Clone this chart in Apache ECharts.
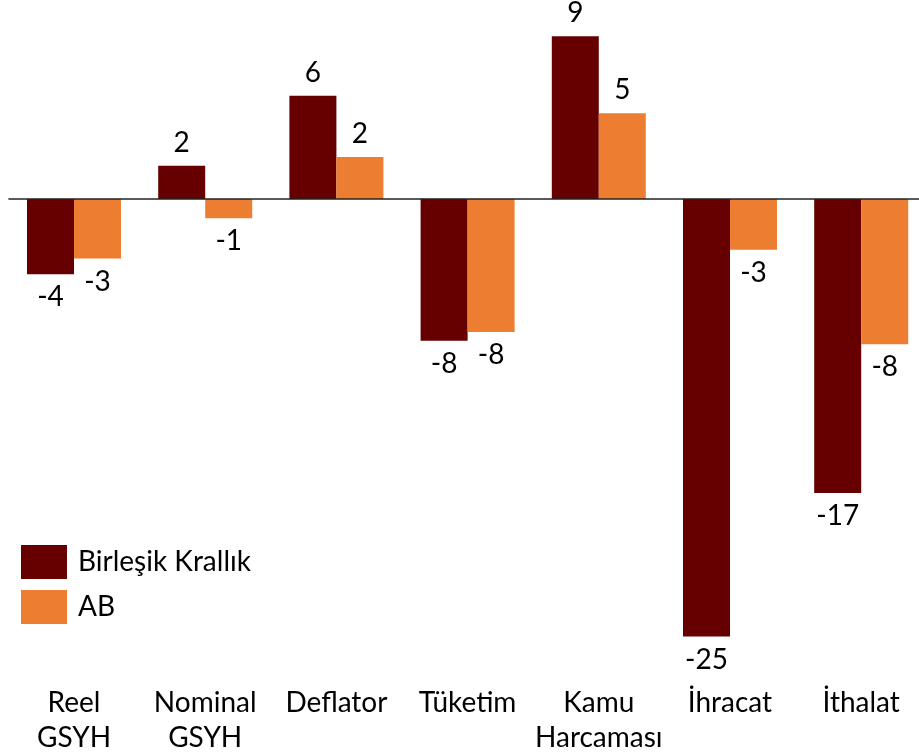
<!DOCTYPE html>
<html>
<head>
<meta charset="utf-8">
<script src="https://cdn.jsdelivr.net/npm/echarts@6/dist/echarts.min.js"></script>
<style>
  html, body { margin: 0; padding: 0; background: #fff; }
  #main { width: 919px; height: 755px; }
</style>
</head>
<body>
<div id="main"></div>
<script>
let categories = ["Reel\nGSYH", "Nominal\nGSYH", "Deflator", "Tüketim", "Kamu\nHarcaması", "İhracat", "İthalat"];
let ukValues = [-4.3, 1.9, 5.9, -8.1, 9.3, -25.0, -16.8];
let abValues = [-3.4, -1.1, 2.4, -7.6, 4.9, -2.9, -8.3];
let seriesNames = ["Birleşik Krallık", "AB"];

let font = "Lato";
let fontSize = 28;

// labels above positive bars, below negative ones
let toItems = (arr) => arr.map((v) => ({
  value: v,
  label: { position: v < 0 ? "bottom" : "top" },
}));

let labelStyle = {
  show: true,
  distance: 9,
  color: "#000",
  fontFamily: font,
  fontSize: fontSize,
  formatter: (p) => Math.round(p.value),
};

let option = {
  animation: false,
  backgroundColor: "#fff",
  grid: {
    left: 8.4,
    width: 918.4,
    top: 24,
    height: 612.5,
    containLabel: false,
    outerBoundsMode: "none",
  },
  legend: {
    orient: "vertical",
    left: 21,
    top: 545,
    padding: 0,
    itemWidth: 46,
    itemHeight: 34,
    itemGap: 11,
    icon: "rect",
    textStyle: {
      color: "#000",
      fontFamily: font,
      fontSize: fontSize,
      padding: [0, 0, 0, 6],
    },
    data: seriesNames,
  },
  xAxis: {
    type: "category",
    data: categories,
    axisLine: { show: false, onZero: false },
    axisTick: { show: false },
    splitLine: { show: false },
    axisLabel: {
      interval: 0,
      margin: 49,
      color: "#000",
      fontFamily: font,
      fontSize: fontSize,
      lineHeight: 35,
    },
  },
  yAxis: {
    type: "value",
    min: -25,
    max: 10,
    show: false,
    splitLine: { show: false },
  },
  series: [
    {
      name: seriesNames[0],
      type: "bar",
      barWidth: 47,
      barGap: "0%",
      itemStyle: { color: "#660000" },
      label: labelStyle,
      data: toItems(ukValues),
      markLine: {
        silent: true,
        symbol: "none",
        label: { show: false },
        lineStyle: { color: "#222", width: 1.5, type: "solid" },
        data: [{ yAxis: 0 }],
      },
    },
    {
      name: seriesNames[1],
      type: "bar",
      barWidth: 47,
      barGap: "0%",
      itemStyle: { color: "#ED7D31" },
      label: labelStyle,
      data: toItems(abValues),
    },
  ],
};

var myChart = echarts.init(document.getElementById("main"));
myChart.setOption(option);
</script>
</body>
</html>
